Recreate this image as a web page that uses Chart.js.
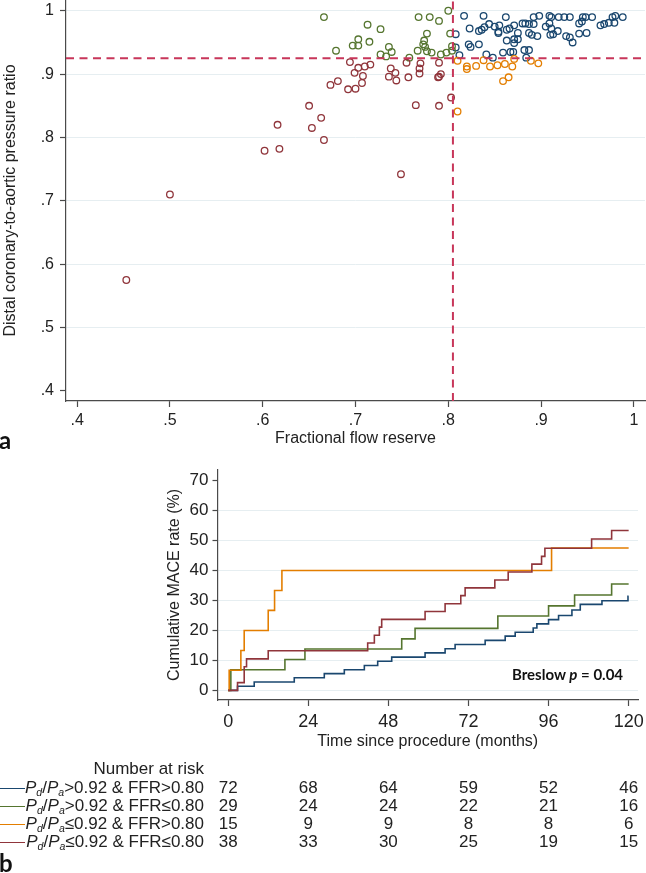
<!DOCTYPE html>
<html>
<head>
<meta charset="utf-8">
<script src="https://cdn.jsdelivr.net/npm/chart.js@4.4.1/dist/chart.umd.min.js"></script>
<style>
  body { margin: 0; background: #fff; width: 646px; height: 873px; overflow: hidden; position: relative;
         font-family: "Liberation Sans", Arial, sans-serif; color: #222; }
  canvas { position: absolute; left: 0; }
  #scatter { top: 0; }
  #km { top: 460px; }
  .panel { position: absolute; left: -1px; font-family: Lato, sans-serif; font-weight: bold; font-size: 24px; line-height: 24px; color: #111; }
  .note { position: absolute; font-family: Lato, sans-serif; font-weight: bold; font-size: 15px; line-height: 18px; color: #111; white-space: nowrap; }
  .risk { position: absolute; font-size: 17px; line-height: 18px; white-space: nowrap; }
  .risk.lbl { text-align: right; }
  .risk.num { width: 40px; text-align: center; }
  .risk sub { font-size: 0.62em; vertical-align: -0.28em; line-height: 0; }
  .key { position: absolute; left: 0; width: 25px; height: 0; border-top: 1.5px solid; }
</style>
</head>
<body>
<canvas id="scatter" width="646" height="450"></canvas>
<canvas id="km" width="646" height="300"></canvas>
<div class="panel" style="top:428px">a</div>
<div class="panel" style="top:851px">b</div>
<div class="note" style="left:512px;top:665px">Breslow <i>p</i> = 0.04</div>
<div id="table"></div>
<script>
// ---- panel a: scatter ----
var FFR_TICKS = [0.4, 0.5, 0.6, 0.7, 0.8, 0.9, 1];
var FFR_LABELS = [".4", ".5", ".6", ".7", ".8", ".9", "1"];
var PDPA_TICKS = [0.4, 0.5, 0.6, 0.7, 0.8, 0.9, 1];
var PDPA_LABELS = [".4", ".5", ".6", ".7", ".8", ".9", "1"];
var FFR_CUT = 0.805;
var PDPA_CUT = 0.925;

// [FFR, Pd/Pa]
var blueGroup = [
  [0.817,0.992],[0.838,0.992],[0.862,0.990],[0.892,0.990],[0.898,0.992],[0.909,0.992],[0.911,0.990],
  [0.919,0.990],[0.925,0.990],[0.931,0.990],[0.945,0.990],[0.948,0.990],[0.955,0.990],[0.977,0.990],
  [0.980,0.992],[0.988,0.990],
  [0.823,0.972],[0.833,0.968],[0.836,0.970],[0.844,0.979],[0.839,0.974],[0.850,0.975],[0.855,0.977],
  [0.854,0.967],[0.863,0.970],[0.866,0.972],[0.871,0.977],[0.880,0.980],[0.883,0.980],[0.887,0.979],
  [0.892,0.979],[0.905,0.975],[0.909,0.980],[0.911,0.972],[0.918,0.968],[0.941,0.980],[0.944,0.983],
  [0.964,0.977],[0.968,0.979],[0.973,0.981],[0.979,0.981],
  [0.808,0.963],[0.854,0.965],[0.875,0.965],[0.887,0.965],[0.890,0.962],[0.896,0.960],[0.871,0.955],
  [0.875,0.955],[0.863,0.953],[0.871,0.949],[0.910,0.962],[0.913,0.963],[0.927,0.960],[0.931,0.958],
  [0.934,0.950],[0.941,0.964],[0.949,0.965],
  [0.808,0.942],[0.822,0.947],[0.824,0.943],[0.833,0.947],[0.841,0.931],[0.848,0.926],[0.859,0.934],
  [0.867,0.935],[0.870,0.935],[0.882,0.938],[0.887,0.938],[0.884,0.926],[0.812,0.930]
];
var greenGroup = [
  [0.666,0.990],[0.713,0.978],[0.727,0.971],[0.679,0.937],[0.697,0.945],[0.703,0.945],[0.703,0.955],
  [0.715,0.951],[0.736,0.943],[0.739,0.935],[0.727,0.931],[0.733,0.928],[0.758,0.926],[0.768,0.990],
  [0.780,0.990],[0.790,0.984],[0.800,1.000],[0.777,0.964],[0.774,0.953],[0.773,0.947],[0.775,0.943],
  [0.767,0.937],[0.777,0.936],[0.782,0.934],[0.792,0.931],[0.798,0.934],[0.804,0.937],[0.804,0.944],
  [0.802,0.964]
];
var orangeGroup = [
  [0.810,0.921],[0.820,0.912],[0.820,0.908],[0.830,0.913],[0.838,0.922],[0.845,0.912],[0.853,0.914],
  [0.861,0.916],[0.869,0.912],[0.871,0.924],[0.859,0.889],[0.865,0.895],[0.889,0.921],[0.897,0.917],
  [0.810,0.841]
];
var redGroup = [
  [0.453,0.575],[0.500,0.710],[0.602,0.779],[0.618,0.782],[0.616,0.820],[0.650,0.850],[0.653,0.815],
  [0.663,0.831],[0.666,0.796],[0.673,0.883],[0.681,0.889],[0.692,0.876],[0.700,0.877],[0.694,0.919],
  [0.699,0.902],[0.703,0.910],[0.708,0.897],[0.707,0.886],[0.710,0.912],[0.716,0.915],[0.738,0.909],
  [0.743,0.902],[0.744,0.890],[0.736,0.896],[0.755,0.918],[0.757,0.895],[0.769,0.909],[0.770,0.917],
  [0.769,0.901],[0.790,0.918],[0.790,0.896],[0.792,0.900],[0.789,0.895],[0.765,0.851],[0.790,0.850],
  [0.803,0.863],[0.749,0.742]
];

// ---- panel b: cumulative MACE ----
var MONTH_TICKS = [0, 24, 48, 72, 96, 120];
var RATE_TICKS = [0, 10, 20, 30, 40, 50, 60, 70];

var blueMonths = [0, 2.8, 7.8, 19.8, 28.8, 34.8, 40.8, 44.8, 49, 59, 65, 68, 77, 83, 86, 91.4, 92.5, 96, 99, 103, 105.5, 112, 119.8, 120];
var blueRate   = [0, 1.4, 2.8, 4.2, 5.6, 6.9, 8.3, 9.7, 11.1, 12.5, 13.9, 15.3, 16.7, 18.1, 19.4, 20.8, 22.2, 23.6, 25.0, 26.8, 28.7, 29.9, 31.4, 31.4];
var greenMonths = [0, 0.8, 17, 23, 52, 56, 80.8, 96, 103.8, 114.9, 120];
var greenRate   = [0, 6.9, 10.3, 13.8, 17.2, 20.7, 24.8, 28.2, 31.8, 35.5, 35.5];
var orangeMonths = [0, 0.3, 3.8, 4.8, 12, 13.9, 16.1, 96.9, 120];
var orangeRate   = [0, 6.7, 13.3, 20.0, 26.7, 33.3, 40.0, 47.5, 47.5];
var redMonths = [0, 2.8, 4.8, 5.5, 12, 41.8, 43.8, 45.3, 46, 59, 65, 69.7, 71, 79.9, 83.9, 91, 93.9, 94.9, 108.9, 114.9, 120];
var redRate   = [0, 2.6, 7.9, 10.5, 13.2, 15.8, 18.4, 21.1, 23.7, 26.3, 28.9, 31.6, 34.2, 36.8, 39.5, 42.1, 44.7, 47.4, 50.5, 53.3, 53.3];

var riskBlue = [72, 68, 64, 59, 52, 46];
var riskGreen = [29, 24, 24, 22, 21, 16];
var riskOrange = [15, 9, 9, 8, 8, 6];
var riskRed = [38, 33, 30, 25, 19, 15];

var NAVY = "#1a476f";
var FOREST = "#55752f";
var ORANGE = "#e37e00";
var MAROON = "#90353b";
var CUT = "#c8365a";
var INK = "#222";
var AXIS = "#4a4a4a";
var GRID = "#e6eef1";
var FONT = "'Liberation Sans', Arial, sans-serif";

function toPts(pairs) {
  return pairs.map(function (p) { return { x: p[0], y: p[1] }; });
}
function toSteps(t, y) {
  var out = [];
  for (var i = 0; i < t.length; i++) out.push({ x: t[i], y: y[i] });
  return out;
}
function ringSet(pairs, color) {
  return { data: toPts(pairs), borderColor: color, backgroundColor: "rgba(0,0,0,0)",
           pointRadius: 3.3, pointBorderWidth: 1.3, pointHoverRadius: 3.3 };
}
function cutSet(pts) {
  return { data: pts, showLine: true, borderColor: CUT, borderWidth: 2, borderDash: [8, 5.5],
           pointRadius: 0, fill: false };
}
function hideAt(v, color) {
  return function (ctx) { return ctx.tick && ctx.tick.value === v ? "rgba(0,0,0,0)" : color; };
}
function fixedTicks(list) {
  return function (scale) { scale.ticks = list.map(function (v) { return { value: v }; }); };
}
// keep the plot box where the figure has it: no extra room for edge labels
function sizeBox(w, h) {
  return function (s) {
    if (w) s.width = w;
    if (h) s.height = h;
    s.paddingTop = 0; s.paddingBottom = 0; s.paddingLeft = 0; s.paddingRight = 0;
  };
}

var X_MIN = 0.388, X_MAX = 1.012, Y_MIN = 0.384, Y_MAX = 1.017;

var scatterChart = new Chart(document.getElementById("scatter"), {
  type: "scatter",
  data: {
    datasets: [
      cutSet([{ x: X_MIN, y: PDPA_CUT }, { x: X_MAX, y: PDPA_CUT }]),
      cutSet([{ x: FFR_CUT, y: Y_MIN }, { x: FFR_CUT, y: Y_MAX }]),
      ringSet(redGroup, MAROON),
      ringSet(orangeGroup, ORANGE),
      ringSet(greenGroup, FOREST),
      ringSet(blueGroup, NAVY)
    ]
  },
  options: {
    responsive: false,
    animation: false,
    layout: { autoPadding: false, padding: { top: 0, right: 1, left: 0, bottom: 0 } },
    plugins: { legend: { display: false }, tooltip: { enabled: false } },
    scales: {
      x: {
        type: "linear", min: X_MIN, max: X_MAX,
        afterBuildTicks: fixedTicks(FFR_TICKS),
        afterFit: sizeBox(0, 49),
        ticks: { autoSkip: false, maxRotation: 0, padding: 4, color: INK, font: { family: FONT, size: 16 },
                 callback: function (v, i) { return FFR_LABELS[i]; } },
        grid: { drawOnChartArea: false, tickLength: 6, tickColor: AXIS, tickWidth: 1.2 },
        border: { color: AXIS, width: 1.2 },
        title: { display: true, text: "Fractional flow reserve", color: INK, font: { family: FONT, size: 16 },
                 padding: { top: 0, bottom: 2 } }
      },
      y: {
        type: "linear", min: Y_MIN, max: Y_MAX,
        afterBuildTicks: fixedTicks(PDPA_TICKS),
        afterFit: sizeBox(66, 0),
        ticks: { autoSkip: false, padding: 6, color: INK, font: { family: FONT, size: 16 },
                 callback: function (v, i) { return PDPA_LABELS[i]; } },
        grid: { color: hideAt(0.4, GRID), lineWidth: 1, tickLength: 6, tickColor: AXIS, tickWidth: 1.2 },
        border: { color: AXIS, width: 1.2 },
        title: { display: true, text: "Distal coronary-to-aortic pressure ratio", color: INK,
                 font: { family: FONT, size: 16 }, padding: { top: 1, bottom: 0 } }
      }
    }
  }
});

function stepSet(t, y, color) {
  return { data: toSteps(t, y), stepped: "before", borderColor: color, borderWidth: 1.6,
           pointRadius: 0, fill: false };
}

var kmChart = new Chart(document.getElementById("km"), {
  type: "line",
  data: {
    datasets: [
      stepSet(redMonths, redRate, MAROON),
      stepSet(orangeMonths, orangeRate, ORANGE),
      stepSet(greenMonths, greenRate, FOREST),
      stepSet(blueMonths, blueRate, NAVY)
    ]
  },
  options: {
    responsive: false,
    animation: false,
    layout: { autoPadding: false, padding: { top: 10, right: 8, left: 162, bottom: 0 } },
    plugins: { legend: { display: false }, tooltip: { enabled: false } },
    scales: {
      x: {
        type: "linear", min: -3.2, max: 122.8,
        afterBuildTicks: fixedTicks(MONTH_TICKS),
        afterFit: sizeBox(0, 60),
        ticks: { autoSkip: false, maxRotation: 0, padding: 5, color: INK, font: { family: FONT, size: 18 } },
        grid: { drawOnChartArea: false, tickLength: 6, tickColor: AXIS, tickWidth: 1.2 },
        border: { color: AXIS, width: 1.2 },
        title: { display: true, text: "Time since procedure (months)", color: INK, font: { family: FONT, size: 16 },
                 padding: { top: 0, bottom: 9 } }
      },
      y: {
        type: "linear", min: -3.2, max: 73.5,
        afterBuildTicks: fixedTicks(RATE_TICKS),
        afterFit: sizeBox(55.5, 0),
        ticks: { autoSkip: false, padding: 4, color: INK, font: { family: FONT, size: 17 } },
        grid: { color: hideAt(70, GRID), lineWidth: 1, tickLength: 5, tickColor: AXIS, tickWidth: 1.2 },
        border: { color: AXIS, width: 1.2 },
        title: { display: true, text: "Cumulative MACE rate (%)", color: INK, font: { family: FONT, size: 16 },
                 padding: { top: 3, bottom: 0 } }
      }
    }
  }
});

// ---- number-at-risk table ----
var PDPA = "<i>P</i><sub><i>d</i></sub>/<i>P</i><sub><i>a</i></sub>";
var riskRows = [
  { label: PDPA + "&gt;0.92 &amp; FFR&gt;0.80", counts: riskBlue, color: NAVY },
  { label: PDPA + "&gt;0.92 &amp; FFR≤0.80", counts: riskGreen, color: FOREST },
  { label: PDPA + "≤0.92 &amp; FFR&gt;0.80", counts: riskOrange, color: ORANGE },
  { label: PDPA + "≤0.92 &amp; FFR≤0.80", counts: riskRed, color: MAROON }
];
var table = document.getElementById("table");
var head = document.createElement("div");
head.className = "risk lbl";
head.style.right = (646 - 204) + "px";
head.style.top = (769 - 9) + "px";
head.textContent = "Number at risk";
table.appendChild(head);
for (var r = 0; r < riskRows.length; r++) {
  var cy = 788 + r * 18;
  var key = document.createElement("div");
  key.className = "key";
  key.style.top = (cy - 0.5) + "px";
  key.style.borderTopColor = riskRows[r].color;
  table.appendChild(key);
  var lbl = document.createElement("div");
  lbl.className = "risk lbl";
  lbl.style.right = (646 - 204) + "px";
  lbl.style.top = (cy - 9) + "px";
  lbl.innerHTML = riskRows[r].label;
  table.appendChild(lbl);
  for (var k = 0; k < MONTH_TICKS.length; k++) {
    var px = kmChart.scales.x.getPixelForValue(MONTH_TICKS[k]);
    var n = document.createElement("div");
    n.className = "risk num";
    n.style.left = (px - 20) + "px";
    n.style.top = (cy - 9) + "px";
    n.textContent = riskRows[r].counts[k];
    table.appendChild(n);
  }
}
</script>
</body>
</html>
